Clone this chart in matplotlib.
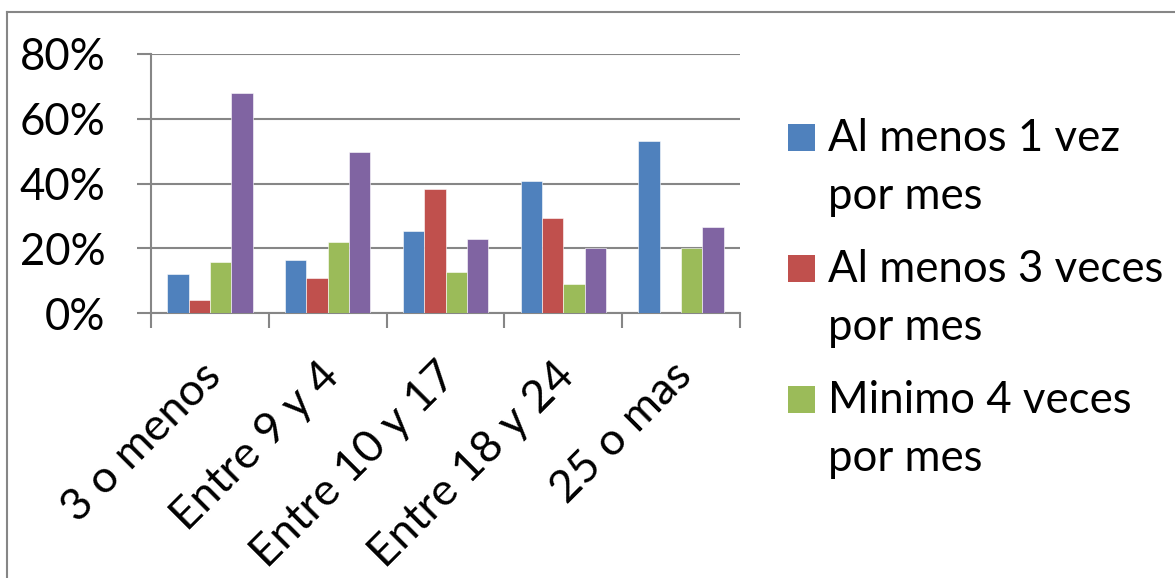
import matplotlib
matplotlib.use("Agg")
import matplotlib.pyplot as plt
from matplotlib.lines import Line2D
from matplotlib.patches import Rectangle
from matplotlib.ticker import FuncFormatter
from matplotlib.transforms import ScaledTranslation
import numpy as np

categories = ["3 o menos", "Entre 9 y 4", "Entre 10 y 17", "Entre 18 y 24", "25 o mas"]
al_menos_1 = [0.12, 0.165, 0.255, 0.407, 0.532]
al_menos_3 = [0.04, 0.11, 0.383, 0.294, 0.0]
minimo_4 = [0.159, 0.22, 0.127, 0.089, 0.20]
cuarta_serie = [0.679, 0.498, 0.23, 0.203, 0.266]

series = [al_menos_1, al_menos_3, minimo_4, cuarta_serie]
colors = ["#4F81BD", "#C0504D", "#9BBB59", "#8064A2"]
legend_labels = [("Al menos 1 vez", "por mes"),
                 ("Al menos 3 veces", "por mes"),
                 ("Minimo 4 veces", "por mes")]
y_ticks = [0, 0.2, 0.4, 0.6, 0.8]

W, H = 1175, 578
fig = plt.figure(figsize=(W / 100, H / 100), dpi=100)
plt.rcParams["font.family"] = ["Lato", "DejaVu Sans"]
FS = 31.5

ax = fig.add_axes([151 / W, 1 - 313.3 / H, (740 - 151) / W, (313.3 - 54) / H])

grid_c = "#868686"
x = np.arange(len(categories))
bw = 0.181
for i, (vals, c) in enumerate(zip(series, colors)):
    ax.bar(x + (i - 1.5) * bw, vals, width=bw, color=c, edgecolor="white",
           linewidth=0.4, zorder=3)

ax.set_xlim(-0.5, len(categories) - 0.5)
ax.set_ylim(0, 0.8)
ax.set_yticks(y_ticks)
ax.yaxis.set_major_formatter(FuncFormatter(lambda v, _: f"{v * 100:.0f}%"))
ax.grid(axis="y", color=grid_c, linewidth=1.5, zorder=0)
ax.set_axisbelow(True)

for s in ["top", "right"]:
    ax.spines[s].set_visible(False)
for s in ["left", "bottom"]:
    ax.spines[s].set_color(grid_c)
    ax.spines[s].set_linewidth(1.5)

ax.tick_params(axis="y", length=10, width=1.5, color=grid_c, pad=23,
               labelsize=FS, labelcolor="black")
ax.set_xticks(x)
ax.set_xticks(np.arange(len(categories) + 1) - 0.5, minor=True)
ax.tick_params(axis="x", which="major", length=0, pad=30, labelsize=32.5)
ax.tick_params(axis="x", which="minor", length=11, width=1.5, color=grid_c)
ax.set_xticklabels(categories, rotation=45, ha="right", rotation_mode="anchor")
shift = ScaledTranslation(-10 / 100, 0, fig.dpi_scale_trans)
for lbl in ax.get_xticklabels():
    lbl.set_transform(lbl.get_transform() + shift)

# legend drawn by hand: square swatch and two-line label per series
sq = 27
baselines = [150.7, 281.7, 413.3]
for (l1, l2), c, b in zip(legend_labels, colors, baselines):
    fig.patches.append(Rectangle((788 / W, 1 - b / H), sq / W, sq / H,
                                 transform=fig.transFigure, facecolor=c,
                                 edgecolor="none"))
    fig.text(828 / W, 1 - b / H, l1, fontsize=FS, va="baseline", ha="left")
    fig.text(828 / W, 1 - (b + 58) / H, l2, fontsize=FS, va="baseline", ha="left")

# outer chart frame
fig.add_artist(Line2D([6.5 / W, 6.5 / W], [1 - 11.5 / H, 0], color=grid_c,
                      linewidth=1.5, transform=fig.transFigure))
fig.add_artist(Line2D([6.5 / W, 1], [1 - 11.5 / H, 1 - 11.5 / H], color=grid_c,
                      linewidth=1.5, transform=fig.transFigure))

fig.savefig("out.png", dpi=100)
